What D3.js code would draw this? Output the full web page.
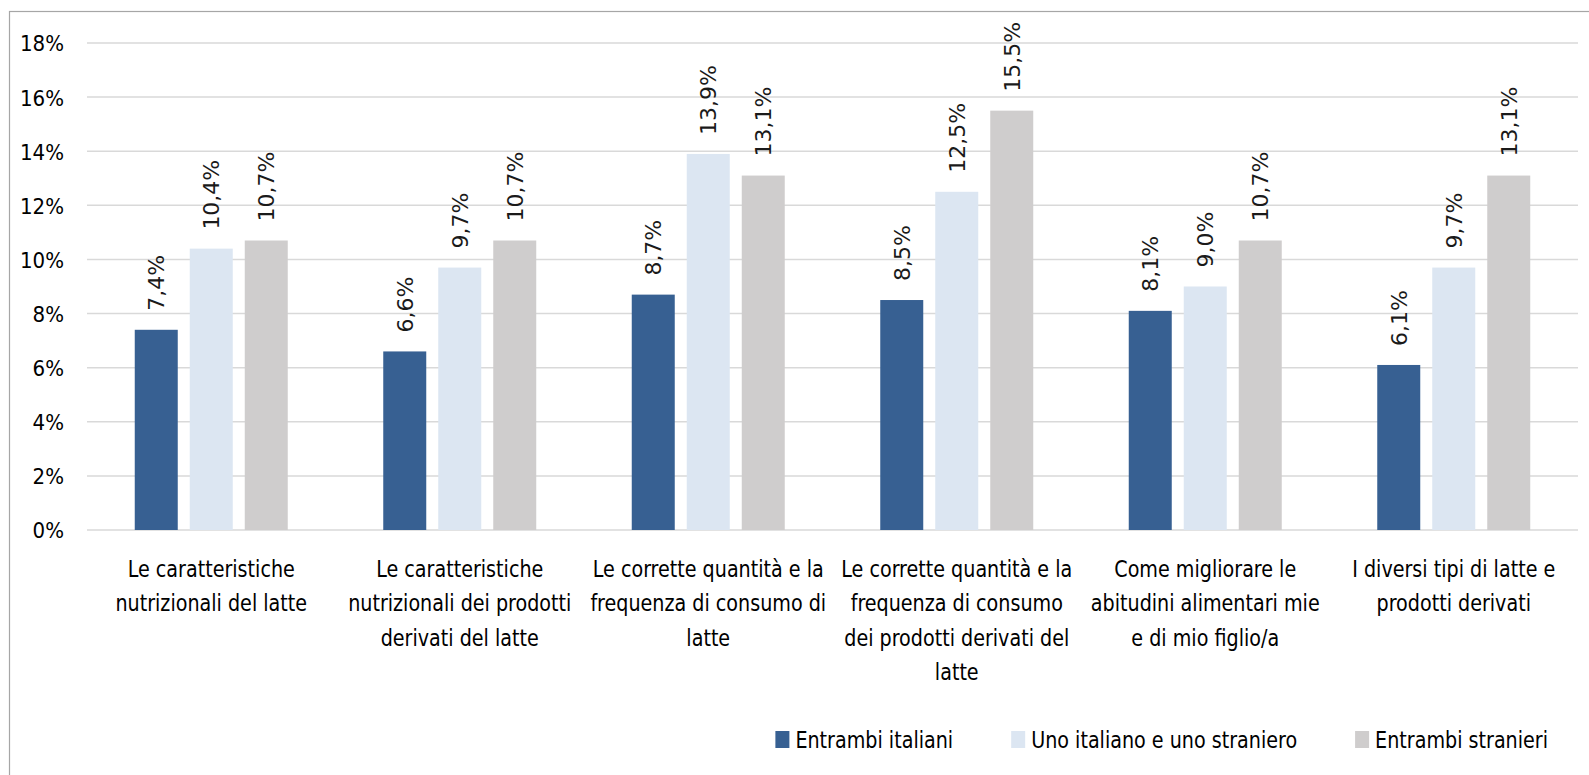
<!DOCTYPE html>
<html>
<head>
<meta charset="utf-8">
<script src="https://cdn.jsdelivr.net/npm/d3@7"></script>
<style>
  html, body { margin: 0; padding: 0; background: #fff; }
  svg { display: block; }
  .narrow { font-family: "Liberation Sans Narrow", "DejaVu Sans Condensed", sans-serif; }
</style>
</head>
<body>
<svg id="chart" width="1589" height="775"></svg>
<script>
// ---- data ----
const categories = [
  "Le caratteristiche\nnutrizionali del latte",
  "Le caratteristiche\nnutrizionali dei prodotti\nderivati del latte",
  "Le corrette quantità e la\nfrequenza di consumo di\nlatte",
  "Le corrette quantità e la\nfrequenza di consumo\ndei prodotti derivati del\nlatte",
  "Come migliorare le\nabitudini alimentari mie\ne di mio figlio/a",
  "I diversi tipi di latte e\nprodotti derivati"
];
const seriesNames = ["Entrambi italiani", "Uno italiano e uno straniero", "Entrambi stranieri"];
const entrambiItaliani = [7.4, 6.6, 8.7, 8.5, 8.1, 6.1];
const unoItalianoUnoStraniero = [10.4, 9.7, 13.9, 12.5, 9.0, 9.7];
const entrambiStranieri = [10.7, 10.7, 13.1, 15.5, 10.7, 13.1];
const yTicks = [0, 2, 4, 6, 8, 10, 12, 14, 16, 18];
const colors = ["#376092", "#DCE6F2", "#CFCDCD"];

const seriesValues = [entrambiItaliani, unoItalianoUnoStraniero, entrambiStranieri];

// ---- layout ----
const svg = d3.select("#chart");
const plot = { left: 87, right: 1578, top: 43, bottom: 530 };
const sx = 0.925; // horizontal compression for narrow look

// frame
svg.append("rect")
  .attr("x", 9.5).attr("y", 11.5)
  .attr("width", 1600).attr("height", 800)
  .attr("fill", "none").attr("stroke", "#A6A6A6").attr("stroke-width", 1.2);

const y = d3.scaleLinear().domain([0, 18]).range([plot.bottom, plot.top]);
const x0 = d3.scaleBand().domain(d3.range(categories.length)).range([plot.left, plot.right]).paddingInner(0).paddingOuter(0);
const groupW = 153;
const x1 = d3.scaleBand().domain(d3.range(seriesNames.length))
  .range([x0.bandwidth() / 2 - groupW / 2, x0.bandwidth() / 2 + groupW / 2])
  .paddingInner(12 / 55).paddingOuter(0);

// gridlines
svg.append("g").selectAll("line").data(yTicks).join("line")
  .attr("x1", plot.left).attr("x2", plot.right)
  .attr("y1", d => y(d)).attr("y2", d => y(d))
  .attr("stroke", "#D9D9D9").attr("stroke-width", 1.5);

// y axis labels
const yAxis = d3.axisLeft(y).tickValues(yTicks).tickFormat(d => d + "%").tickSize(0).tickPadding(0);
const yg = svg.append("g").attr("transform", `translate(${64},0)`).call(yAxis);
yg.select(".domain").remove();
yg.selectAll("text").attr("class", "narrow").attr("font-size", 22).attr("fill", "#000").attr("dy", "0.36em");

// bars
const data = [];
categories.forEach((c, i) => seriesValues.forEach((vals, s) => data.push({ i, s, v: vals[i] })));

svg.append("g").selectAll("rect").data(data).join("rect")
  .attr("x", d => x0(d.i) + x1(d.s))
  .attr("width", x1.bandwidth())
  .attr("y", d => y(d.v))
  .attr("height", d => y(0) - y(d.v))
  .attr("fill", d => colors[d.s]);

// data labels
svg.append("g").selectAll("text").data(data).join("text")
  .attr("transform", d => `translate(${x0(d.i) + x1(d.s) + x1.bandwidth() / 2},${y(d.v) - 19}) rotate(-90)`)
  .attr("dy", "0.36em")
  .attr("text-anchor", "start")
  .attr("font-family", "DejaVu Sans, sans-serif")
  .attr("font-size", 22)
  .attr("fill", "#1a1a1a")
  .text(d => d.v.toFixed(1).replace(".", ",") + "%");

// category labels
const cg = svg.append("g").selectAll("text").data(categories).join("text")
  .attr("class", "narrow")
  .attr("font-size", 23)
  .attr("fill", "#000")
  .attr("text-anchor", "middle")
  .attr("transform", (d, i) => `translate(${x0(i) + x0.bandwidth() / 2},577) scale(${sx},1)`);
cg.selectAll("tspan").data(d => d.split("\n")).join("tspan")
  .attr("x", 0).attr("y", (d, k) => k * 34.5)
  .text(d => d);

// legend (right aligned)
const legend = svg.append("g");
const items = legend.selectAll("g").data(seriesNames).join("g");
items.append("rect").attr("width", 14).attr("height", 17).attr("y", -17).attr("fill", (d, i) => colors[i]);
items.append("text").attr("class", "narrow").attr("font-size", 23).attr("fill", "#000")
  .attr("transform", `translate(20,0) scale(${sx},1)`).text(d => d);
const widths = [];
items.each(function () { widths.push(20 + sx * this.querySelector("text").getComputedTextLength()); });
const gap = 58;
const total = d3.sum(widths) + gap * (widths.length - 1);
let cx = 1548 - total;
items.attr("transform", (d, i) => {
  const t = `translate(${cx},748)`;
  cx += widths[i] + gap;
  return t;
});
</script>
</body>
</html>
